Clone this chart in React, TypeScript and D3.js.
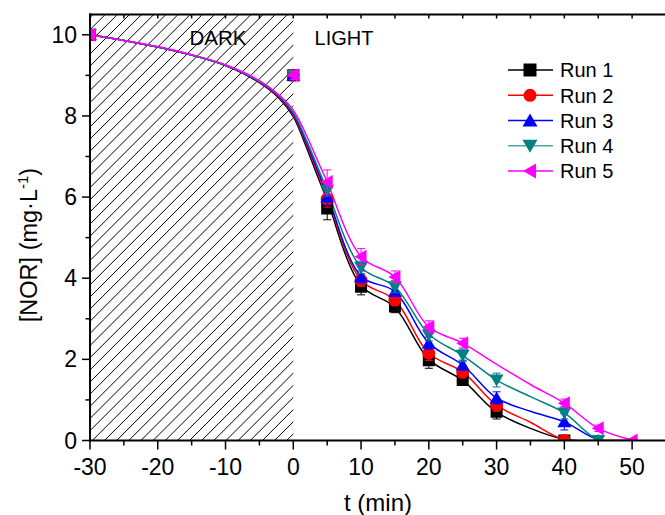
import React from "react";
import * as d3 from "d3";

// ---- data ----
const runNames = ["Run 1", "Run 2", "Run 3", "Run 4", "Run 5"];
const runColors = ["#000000", "#ff0000", "#0000ff", "#008080", "#ff00ff"];
const runShapes = ["square", "circle", "up", "down", "left"];

// measured points
const run1X = [-30, 0, 5, 10, 15, 20, 25, 30, 40];
const run1Y = [10, 9, 5.72, 3.79, 3.3, 1.98, 1.49, 0.71, 0];
const run1E = [0, 0.1, 0.28, 0.2, 0.15, 0.2, 0.1, 0.18, 0.05];

const run2X = [-30, 0, 5, 10, 15, 20, 25, 30, 40];
const run2Y = [10, 9, 5.95, 3.95, 3.46, 2.15, 1.69, 0.87, 0];
const run2E = [0, 0.1, 0.2, 0.15, 0.12, 0.18, 0.15, 0.15, 0.05];

const run3X = [-30, 0, 5, 10, 15, 20, 25, 30, 40, 45];
const run3Y = [10, 9, 6.0, 4.03, 3.67, 2.4, 1.86, 1.05, 0.46, 0];
const run3E = [0, 0.1, 0.2, 0.15, 0.12, 0.15, 0.12, 0.15, 0.2, 0.05];

const run4X = [-30, 0, 5, 10, 15, 20, 25, 30, 40, 45];
const run4Y = [10, 9, 6.17, 4.27, 3.79, 2.6, 2.1, 1.49, 0.68, 0];
const run4E = [0, 0.1, 0.15, 0.15, 0.15, 0.15, 0.15, 0.17, 0.15, 0.05];

const run5X = [-30, 0, 5, 10, 15, 20, 25, 40, 45, 50];
const run5Y = [10, 9, 6.37, 4.53, 4.03, 2.8, 2.4, 0.92, 0.3, 0];
const run5E = [0, 0.1, 0.3, 0.2, 0.15, 0.15, 0.12, 0.1, 0.08, 0.05];

// fitted curves
const fitX = [-30, -25, -20, -15, -10, -5, -2, 0, 2, 3.5, 5, 10, 15, 20, 25, 30, 35, 40, 45, 50];
const fit1 = [10, 9.86, 9.7, 9.5, 9.24, 8.82, 8.42, 7.98, 7.2, 6.55, 5.92, 3.82, 3.28, 2.0, 1.48, 0.7, 0.3, 0.03, 0, 0];
const fit2 = [10, 9.86, 9.7, 9.5, 9.24, 8.83, 8.44, 8.02, 7.27, 6.63, 6.0, 3.95, 3.46, 2.15, 1.69, 0.87, 0.45, 0.02, 0, 0];
const fit3 = [10, 9.86, 9.7, 9.5, 9.25, 8.84, 8.46, 8.05, 7.32, 6.7, 6.07, 4.05, 3.67, 2.4, 1.86, 1.05, 0.72, 0.46, 0.02, 0];
const fit4 = [10, 9.86, 9.7, 9.5, 9.25, 8.85, 8.48, 8.08, 7.38, 6.78, 6.17, 4.27, 3.79, 2.62, 2.1, 1.49, 1.08, 0.68, 0.02, 0];
const fit5 = [10, 9.86, 9.71, 9.51, 9.26, 8.87, 8.5, 8.14, 7.5, 6.93, 6.37, 4.53, 4.03, 2.8, 2.4, 1.88, 1.38, 0.92, 0.3, 0.01];

const xTicks = [-30, -20, -10, 0, 10, 20, 30, 40, 50];
const xMinor = [-25, -15, -5, 5, 15, 25, 35, 45, 55];
const yTicks = [0, 2, 4, 6, 8, 10];
const yMinor = [1, 3, 5, 7, 9];

const runsX = [run1X, run2X, run3X, run4X, run5X];
const runsY = [run1Y, run2Y, run3Y, run4Y, run5Y];
const runsE = [run1E, run2E, run3E, run4E, run5E];
const fits = [fit1, fit2, fit3, fit4, fit5];

const FONT = "'Liberation Sans', Arial, sans-serif";

function markerPath(shape: string, s: number): string {
  const h = s / 2;
  switch (shape) {
    case "square":
      return `M${-h},${-h}H${h}V${h}H${-h}Z`;
    case "circle":
      return `M${-h},0A${h},${h} 0 1,0 ${h},0A${h},${h} 0 1,0 ${-h},0Z`;
    case "up":
      return `M0,${-h - 0.5}L${h + 1},${h - 0.5}L${-h - 1},${h - 0.5}Z`;
    case "down":
      return `M0,${h + 0.5}L${h + 1},${-h + 0.5}L${-h - 1},${-h + 0.5}Z`;
    case "left":
      return `M${-h - 0.5},0L${h - 0.5},${-h - 1}L${h - 0.5},${h + 1}Z`;
  }
  return "";
}

export default function App() {
  const W = 665, H = 515;
  const x = d3.scaleLinear().domain([-30, 55]).range([90, 666]);
  const y = d3.scaleLinear().domain([0, 10.5]).range([440.5, 14.5]);
  const x0 = x(-30), x1 = x(55), yb = y(0), yt = y(10.5);

  const line = d3
    .line<number>()
    .x((_, i) => x(fitX[i]))
    .y((d) => y(d))
    .curve(d3.curveCatmullRom.alpha(0.5));

  // hatch lines at 45 degrees
  const spacing = 12.15;
  const hatchH = yb - yt;
  const hatch = d3.range(-40, 20).map((k) => {
    const bx = 92.3 + k * spacing;
    return { x1: bx, y1: yb, x2: bx + hatchH, y2: yt };
  });

  const legendY = [70, 95.3, 120.5, 145.8, 171];

  return (
    <div style={{ position: "absolute", left: 0, top: 0 }}>
      <svg width={W} height={H} style={{ display: "block", background: "#fff" }}>
        <defs>
          <clipPath id="plot">
            <rect x={x0} y={yt} width={x1 - x0} height={yb - yt} />
          </clipPath>
          <clipPath id="dark">
            <rect x={x0} y={yt} width={x(0) - x0} height={yb - yt} />
          </clipPath>
        </defs>
        <rect width={W} height={H} fill="#fff" />

        {/* dark hatch */}
        <g clipPath="url(#dark)">
          {hatch.map((l, i) => (
            <line key={i} {...l} stroke="#000" strokeWidth={1} />
          ))}
        </g>

        <text x={218} y={45} fontFamily={FONT} fontSize={20.5} textAnchor="middle">DARK</text>
        <text x={344} y={45} fontFamily={FONT} fontSize={20} textAnchor="middle">LIGHT</text>

        <g clipPath="url(#plot)">
          {fits.map((f, i) => (
            <path key={i} d={line(f) || ""} fill="none" stroke={runColors[i]} strokeWidth={1.5} />
          ))}
          {runsY.map((ys, i) => (
            <g key={i}>
              {ys.map((v, j) => {
                const px = x(runsX[i][j]);
                const e = runsE[i][j];
                if (e <= 0) return null;
                return (
                  <g key={j} stroke={runColors[i]} strokeWidth={1}>
                    <line x1={px} x2={px} y1={y(v + e)} y2={y(v - e)} />
                    <line x1={px - 4} x2={px + 4} y1={y(v + e)} y2={y(v + e)} />
                    <line x1={px - 4} x2={px + 4} y1={y(v - e)} y2={y(v - e)} />
                  </g>
                );
              })}
              {ys.map((v, j) => (
                <path
                  key={"m" + j}
                  d={markerPath(runShapes[i], i === 1 ? 13 : 12)}
                  transform={`translate(${x(runsX[i][j])},${y(v)})`}
                  fill={runColors[i]}
                />
              ))}
            </g>
          ))}
        </g>

        {/* axes */}
        <g stroke="#000" strokeWidth={2} fill="none">
          <line x1={x0 - 1} x2={x1} y1={yb} y2={yb} />
          <line x1={x0} x2={x0} y1={yt - 1} y2={yb + 1} />
          <line x1={x0 - 1} x2={x1} y1={yt} y2={yt} />
        </g>
        <g stroke="#000" strokeWidth={1.5}>
          {xTicks.map((t) => (
            <line key={"xb" + t} x1={x(t)} x2={x(t)} y1={yb} y2={yb + 9} />
          ))}
          {xMinor.filter((t) => x(t) < W).map((t) => (
            <line key={"xm" + t} x1={x(t)} x2={x(t)} y1={yb} y2={yb + 5} />
          ))}
          {xTicks.concat(xMinor).filter((t) => x(t) < W).map((t) => (
            <line key={"xt" + t} x1={x(t)} x2={x(t)} y1={yt} y2={yt + 4} />
          ))}
          {yTicks.map((t) => (
            <line key={"y" + t} x1={x0 - 8} x2={x0} y1={y(t)} y2={y(t)} />
          ))}
          {yMinor.map((t) => (
            <line key={"ym" + t} x1={x0 - 4.5} x2={x0} y1={y(t)} y2={y(t)} />
          ))}
        </g>
        <g fontFamily={FONT} fontSize={23} fill="#000">
          {xTicks.map((t) => (
            <text key={t} x={x(t)} y={475} textAnchor="middle">{t}</text>
          ))}
          {yTicks.map((t) => (
            <text key={t} x={77} y={y(t) + 8} textAnchor="end">{t}</text>
          ))}
        </g>
        <text x={378} y={511} fontFamily={FONT} fontSize={24} textAnchor="middle">t (min)</text>
        <text
          transform="translate(37,245) rotate(-90)"
          fontFamily={FONT}
          fontSize={23.5}
          textAnchor="middle"
        >
          [NOR] (mg·L<tspan fontSize={15} dy={-9}>-1</tspan><tspan dy={9}>)</tspan>
        </text>

        {/* legend */}
        {runNames.map((n, i) => (
          <g key={n}>
            <line x1={508} x2={553} y1={legendY[i]} y2={legendY[i]} stroke={runColors[i]} strokeWidth={1.5} opacity={i === 3 ? 0.7 : 1} />
            <path d={markerPath(runShapes[i], 13)} transform={`translate(530,${legendY[i]})`} fill={runColors[i]} />
            <text x={560} y={legendY[i] + 7.2} fontFamily={FONT} fontSize={20}>{n}</text>
          </g>
        ))}
      </svg>
    </div>
  );
}
